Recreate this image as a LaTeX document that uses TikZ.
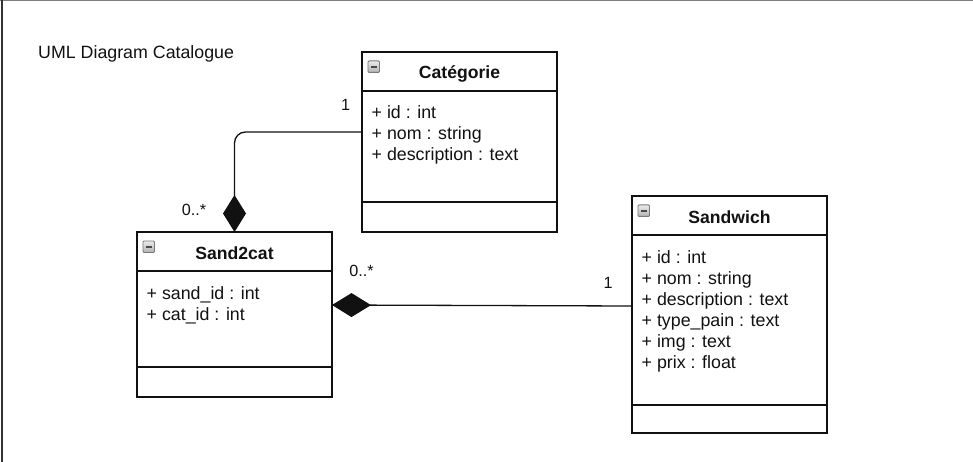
\documentclass[tikz,border=0pt]{standalone}
\usepackage{fontspec}
\setmainfont{Liberation Sans}
\usetikzlibrary{arrows.meta}

\definecolor{ink}{HTML}{111111}
\definecolor{framegray}{HTML}{7F7F7F}
\definecolor{framedark}{HTML}{333333}
\definecolor{iconedge}{HTML}{7A7A7A}
\definecolor{iconmark}{HTML}{4A4A4A}

\tikzset{
  classhead/.style={draw=ink, line width=1.4pt, minimum width=195pt, minimum height=39pt,
    inner sep=0pt, outer sep=0pt, font=\fontsize{17.6}{21}\selectfont\bfseries, text=ink,
    text height=15pt, text depth=0pt},
  classpart/.style={draw=ink, line width=1.4pt, minimum width=195pt, inner sep=0pt, outer sep=0pt},
  attr/.style={inner sep=0pt, font=\fontsize{17.8}{21}\selectfont, text=ink},
  mult/.style={inner sep=0pt, font=\fontsize{16.2}{19}\selectfont, text=ink},
  titletext/.style={inner sep=0pt, font=\fontsize{17.8}{21}\selectfont, text=ink},
  collapseicon/.style={draw=iconedge, line width=0.9pt, top color=black!8, bottom color=black!30,
    minimum size=11.5pt, inner sep=0pt, rounded corners=1pt,
    path picture={\draw[line width=2pt, iconmark]
      ([xshift=-3.2pt]path picture bounding box.center) --
      ([xshift=3.2pt]path picture bounding box.center);}},
  composition/.style={draw=ink, line width=1.3pt, -{Diamond[length=37pt,width=23pt]}},
}

% #1 name, #2 top-left corner, #3 class name, #4 attribute height,
% #5 operations height, #6 attribute lines
\newcommand\umlclass[6]{%
  \node[classhead, anchor=north west] (#1) at #2 {#3};
  \node[classpart, minimum height=#4, anchor=north] (#1-attr) at (#1.south) {};
  \node[classpart, minimum height=#5, anchor=north] (#1-ops) at (#1-attr.south) {};
  \node[collapseicon, anchor=north west] (#1-icon) at ([shift={(5.5,8.5)}]#1.north west) {};
  \foreach \a [count=\i] in {#6}
    \node[attr, anchor=base west] (#1-a\i) at ([shift={(9.5,{28+21*(\i-1)})}]#1-attr.north west) {\a};
}

\begin{document}
\begin{tikzpicture}[x=1pt, y=-1pt]
  \useasboundingbox (0,0) rectangle (973,462);

  % page frame
  \draw[framegray, line width=1.2pt] (0,0.6) -- (973,0.6);
  \draw[framedark, line width=2pt] (2,0) -- (2,462);

  \node[titletext, anchor=base west] (title) at (38,59) {UML Diagram Catalogue};

  % classes
  \umlclass{cat}{(362,52)}{Catégorie}{111}{30}
    {+ id : int, + nom : string, + description : text}
  \umlclass{s2c}{(137,232)}{Sand2cat}{96}{30}
    {+ sand\_id : int, + cat\_id : int}
  \umlclass{sw}{(632,196)}{Sandwich}{170}{28}
    {+ id : int, + nom : string, + description : text, + type\_pain : text, + img : text, + prix : float}

  % associations
  \draw[composition, rounded corners=11pt] ([yshift=14.5pt]cat-attr.west) -| (s2c.north);
  \draw[composition, -{Diamond[length=39pt,width=24pt]}] ([yshift=14pt]sw-attr.west) -- ([yshift=14pt]s2c-attr.east);

  % multiplicities
  \node[mult, anchor=base] (m-cat) at (345.5,111) {1};
  \node[mult, anchor=base] (m-s2c-top) at (194,215) {0..*};
  \node[mult, anchor=base] (m-s2c-right) at (361.5,276) {0..*};
  \node[mult, anchor=base] (m-sw) at (608,288) {1};
\end{tikzpicture}
\end{document}
